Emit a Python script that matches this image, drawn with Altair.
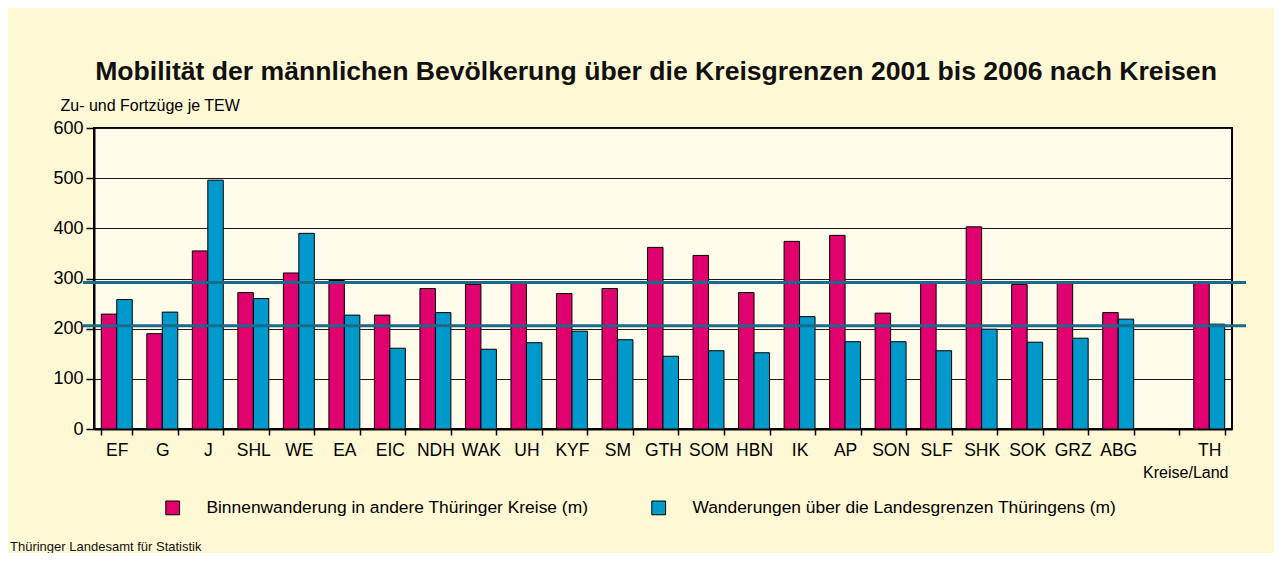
import altair as alt
import pandas as pd

# ---- data ----
kreise = ["EF", "G", "J", "SHL", "WE", "EA", "EIC", "NDH", "WAK", "UH", "KYF", "SM",
          "GTH", "SOM", "HBN", "IK", "AP", "SON", "SLF", "SHK", "SOK", "GRZ", "ABG", " ", "TH"]
binnen = [229, 190, 355, 272, 311, 296, 227, 280, 288, 292, 270, 280,
          362, 346, 272, 374, 386, 231, 290, 403, 288, 294, 232, None, 293]
landes = [258, 233, 496, 260, 390, 227, 161, 232, 159, 172, 195, 178,
          145, 156, 152, 224, 174, 174, 156, 199, 173, 181, 219, None, 209]
serien = ["Binnenwanderung in andere Thüringer Kreise (m)",
          "Wanderungen über die Landesgrenzen Thüringens (m)"]
referenzlinien = [292, 206]
y_ticks = [0, 100, 200, 300, 400, 500, 600]

title_text = "Mobilität der männlichen Bevölkerung über die Kreisgrenzen 2001 bis 2006 nach Kreisen"
y_title = "Zu- und Fortzüge je TEW"
x_title = "Kreise/Land"
footer_text = "Thüringer Landesamt für Statistik"

PINK = "#E0006E"
BLUE = "#0099CC"
LINE = "#1A6A8C"
FONT = "Liberation Sans"

rows = []
for k, b, l in zip(kreise, binnen, landes):
    if b is not None:
        rows.append({"kreis": k, "serie": serien[0], "wert": b})
    if l is not None:
        rows.append({"kreis": k, "serie": serien[1], "wert": l})
df = pd.DataFrame(rows)

W, H = 1138, 301
yscale = alt.Scale(domain=[0, 600], nice=False, zero=True)
yaxis = alt.Axis(values=y_ticks, title=y_title, grid=True, gridColor="#1a1a1a",
                 gridWidth=1, labelFontSize=18, labelColor="black", labelPadding=3,
                 tickSize=8, tickColor="black", tickWidth=1.5, domainColor="black",
                 domainWidth=2, titleFontSize=16, titleFontWeight="normal",
                 titleColor="black", titleAngle=0, titleX=-34, titleY=-18,
                 titleAlign="left", titleBaseline="alphabetic")

bars = alt.Chart(df).mark_bar(stroke="black", strokeWidth=1).encode(
    x=alt.X("kreis:N", sort=kreise,
            scale=alt.Scale(domain=kreise, paddingInner=0.32, paddingOuter=0.16),
            axis=alt.Axis(title=x_title, labelAngle=0, labelFontSize=17.5, labelColor="black",
                          labelOverlap=False, labelPadding=6, tickBand="extent", tickSize=6,
                          tickColor="black", tickWidth=1.5, domainColor="black", domainWidth=2,
                          titleFontSize=16, titleFontWeight="normal", titleColor="black",
                          titleX=1134, titleY=48, titleAlign="right", titleBaseline="alphabetic",
                          titleAnchor="end")),
    xOffset=alt.XOffset("serie:N", sort=serien,
                        scale=alt.Scale(domain=serien, paddingInner=0, paddingOuter=0)),
    y=alt.Y("wert:Q", scale=yscale, axis=yaxis),
    color=alt.Color("serie:N", sort=serien,
                    scale=alt.Scale(domain=serien, range=[PINK, BLUE]),
                    legend=alt.Legend(title=None, orient="none", direction="horizontal",
                                      legendX=70, legendY=371, padding=0,
                                      symbolType="square", symbolSize=190,
                                      symbolStrokeColor="black", symbolStrokeWidth=1,
                                      symbolOpacity=1, labelFontSize=17.4, labelColor="black",
                                      labelOffset=25, labelLimit=800, columnPadding=60)),
)

ref_df = pd.DataFrame({"wert": referenzlinien})
rules = alt.Chart(ref_df).mark_rule(color=LINE, strokeWidth=3).encode(
    y=alt.Y("wert:Q", scale=yscale, axis=yaxis),
    x=alt.value(-11),
    x2=alt.value(1152),
)

title = alt.Chart(pd.DataFrame({"t": [title_text]})).mark_text(
    font=FONT, fontSize=26.6, fontWeight="bold", color="#111111",
    align="center", baseline="alphabetic").encode(
    text="t:N", x=alt.value(562), y=alt.value(-48.5))

footer = alt.Chart(pd.DataFrame({"t": [footer_text]})).mark_text(
    font=FONT, fontSize=13, color="#111111", align="left", baseline="alphabetic").encode(
    text="t:N", x=alt.value(-84), y=alt.value(423))

chart = alt.layer(bars, rules, title, footer).properties(
    width=W, height=H,
    autosize=alt.AutoSizeParams(type="none"),
    padding={"left": 86, "top": 120, "right": 42, "bottom": 124},
    background="#FFF8D4",
).configure(
    font=FONT,
).configure_view(
    fill="#FFFCEC", stroke="black", strokeWidth=2,
)

chart.save("out.html", embed_options={"renderer": "svg", "actions": False})
